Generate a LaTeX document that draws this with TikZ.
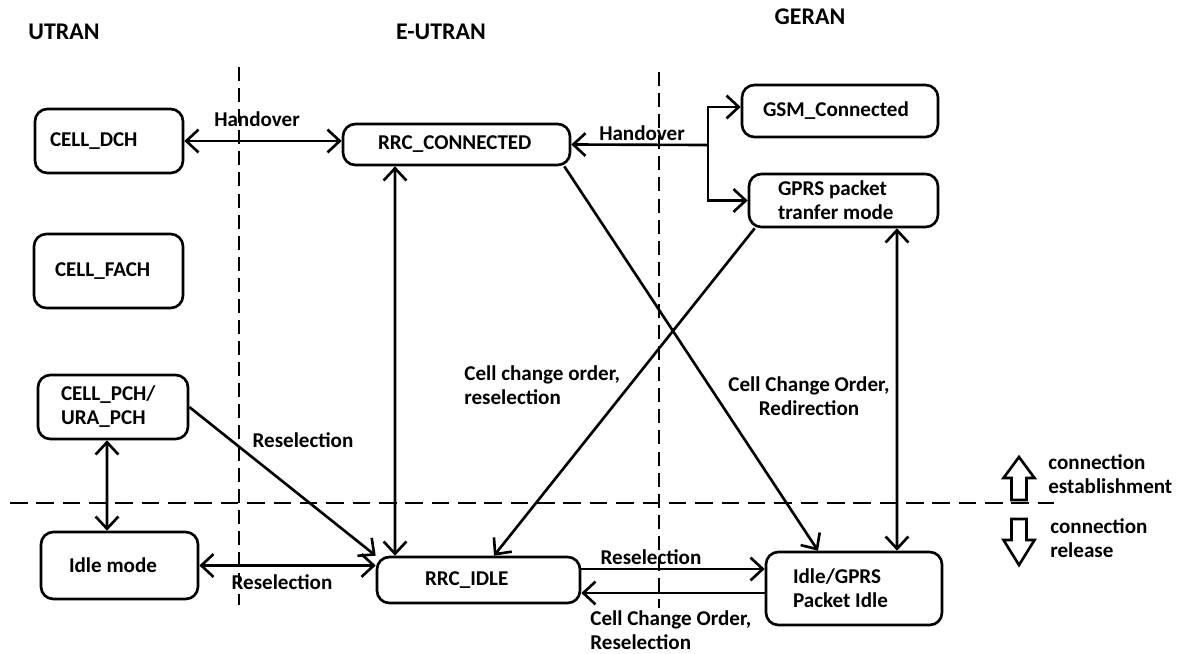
\documentclass[tikz,border=0pt]{standalone}
\usepackage{fontspec}
\setmainfont{Carlito}
\usetikzlibrary{arrows.meta}

\tikzset{
  state/.style={draw, line width=1.5pt, rounded corners=7pt, align=flush left, inner ysep=2pt},
  link/.style={line width=1.5pt},
  lbl/.style={inner sep=0pt, align=left},
  title/.style={inner sep=0pt, font=\fontsize{13.6}{15}\selectfont\bfseries},
  border/.style={line width=1.5pt, dash pattern=on 8pt off 4pt},
  bigarrow/.style={line width=1.5pt, line join=miter}
}

\begin{document}
\begin{tikzpicture}[x=0.02cm, y=-0.02cm, >={Straight Barb[length=7pt,width=13pt]},
  every node/.style={font=\fontsize{12}{13.7}\selectfont\bfseries}]
\useasboundingbox (0,0) rectangle (1187,653);

\node[title] (utran) at (64,32) {UTRAN};
\node[title] (eutran) at (441,32) {E-UTRAN};
\node[title] (geran) at (810,17) {GERAN};

\draw[border] (239,67) -- (239,605);
\draw[border] (659,72) -- (659,608);
\draw[border, dash pattern=on 10pt off 5pt] (10,503) -- (1054,503);

\node[state, text width=2.36cm, inner xsep=0.30cm, minimum height=1.28cm] (dch) at (109,141) {CELL\_DCH};
\node[state, text width=2.14cm, inner xsep=0.42cm, minimum height=1.48cm] (fach) at (108.5,271) {CELL\_FACH};
\node[state, text width=2.08cm, inner xsep=0.46cm, minimum height=1.28cm] (pch) at (113,407) {CELL\_PCH/\\URA\_PCH};
\node[state, text width=2.02cm, inner xsep=0.56cm, minimum height=1.34cm] (idle) at (119.5,565.5) {Idle mode};
\node[state, text width=3.14cm, inner xsep=0.70cm, minimum height=0.82cm] (conn) at (456.5,144.5) {RRC\_CONNECTED};
\node[state, text width=2.14cm, inner xsep=0.96cm, minimum height=0.92cm] (ridle) at (478.5,580) {RRC\_IDLE};
\node[state, text width=3.08cm, inner xsep=0.42cm, minimum height=1.04cm] (gsm) at (840,111) {GSM\_Connected};
\node[state, text width=2.62cm, inner xsep=0.58cm, minimum height=1.06cm] (gprs) at (843.5,200.5) {GPRS packet\\tranfer mode};
\node[state, text width=2.44cm, inner xsep=0.54cm, minimum height=1.46cm] (gidle) at (854,588.5) {Idle/GPRS\\Packet Idle};

\coordinate (fork) at (708,145);

\draw[link,<->] (dch.east) -- (dch.east -| conn.west);
\node[lbl] (ho1) at (257,119) {Handover};
\draw[link,<-] (conn.east) -- (fork);
\draw[link,->] (fork) |- ([yshift=0.08cm]gsm.west);
\draw[link,->] (fork) |- (gprs.west);
\node[lbl] (ho2) at (642,133) {Handover};

\draw[link,<->] ([xshift=-1.23cm]conn.south) -- ([xshift=-1.67cm]ridle.north);
\draw[link,->] (pch.east) -- (ridle.north west);
\node[lbl] (resel1) at (303,440) {Reselection};
\draw[link,<->] ([xshift=-0.12cm]pch.south) -- ([xshift=-0.25cm]idle.north);
\draw[link,<->] (idle.east) -- (idle.east -| ridle.west);
\node[lbl] (resel2) at (282,582) {Reselection};

\draw[link,->] ([xshift=0.14cm]gprs.south west) -- ([xshift=0.31cm]ridle.north);
\node[lbl, anchor=west] (cco1) at (464,385) {Cell change order,\\reselection};
\draw[link,->] ([xshift=-0.14cm]conn.south east) -- ([xshift=-0.72cm]gidle.north);
\node[lbl, align=center] (cco2) at (809,396) {Cell Change Order,\\Redirection};
\draw[link,<->] ([xshift=1.07cm]gprs.south) -- ([xshift=0.86cm]gidle.north);

\draw[link,->] ([yshift=0.22cm]ridle.east) -- ([yshift=0.22cm]ridle.east -| gidle.west);
\node[lbl] (resel3) at (651,557) {Reselection};
\draw[link,->] ([yshift=-0.26cm]ridle.east -| gidle.west) -- ([yshift=-0.26cm]ridle.east);
\node[lbl, anchor=west] (cco3) at (590,630) {Cell Change Order,\\Reselection};

\draw[bigarrow] (1011.5,500) -- (1011.5,478) -- (1003.5,478) -- (1019,457) -- (1034.5,478) -- (1026.5,478) -- (1026.5,500) -- cycle;
\draw[bigarrow] (1011.5,519) -- (1011.5,540) -- (1003.5,540) -- (1019,565) -- (1034.5,540) -- (1026.5,540) -- (1026.5,519) -- cycle;
\node[lbl, anchor=west] (est) at (1048,474) {connection\\establishment};
\node[lbl, anchor=west] (rel) at (1050,538) {connection\\release};
\end{tikzpicture}
\end{document}
